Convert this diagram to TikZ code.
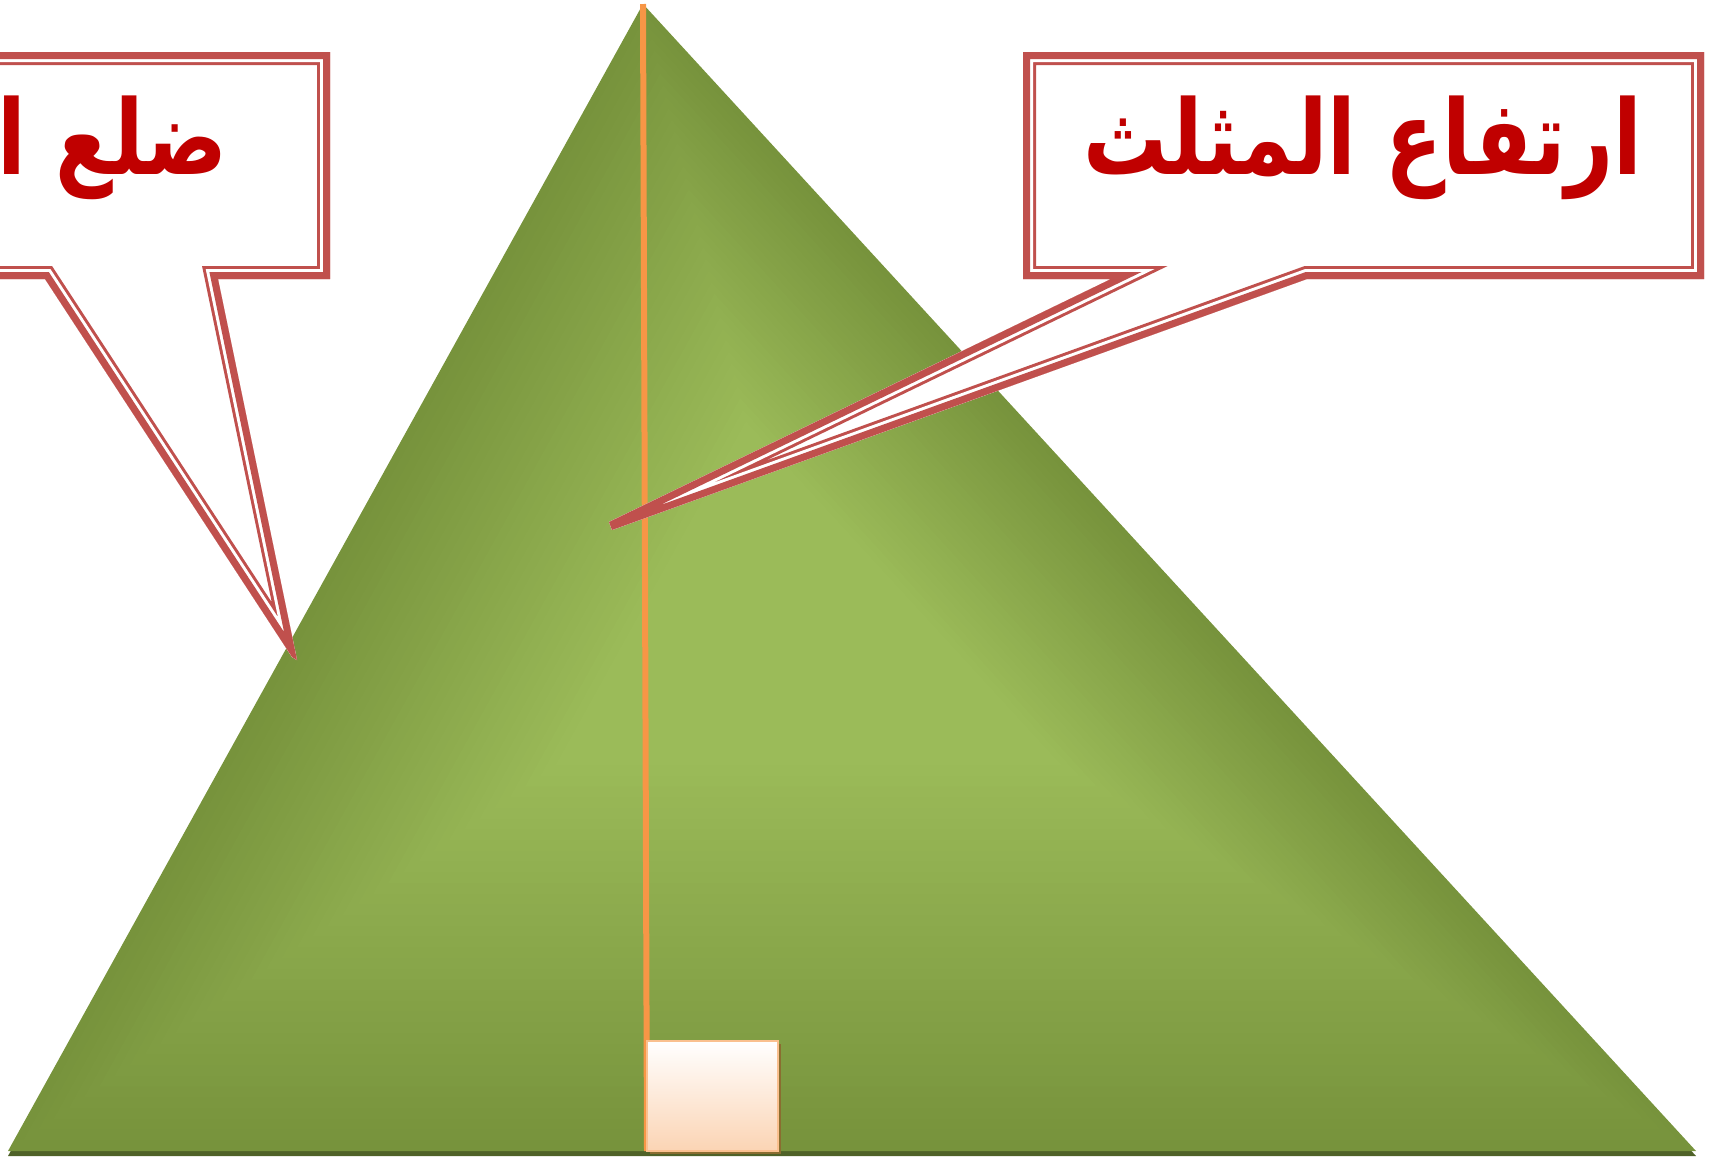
\documentclass[tikz,border=0pt]{standalone}
\usepackage{fontspec}
\newfontfamily\arabicfont[Script=Arabic]{DejaVu Sans}
\TeXXeTstate=1
\usetikzlibrary{calc, shadows}
\definecolor{olivedark}{HTML}{77933C}
\definecolor{olivelight}{HTML}{9BBB59}
\definecolor{basedark}{HTML}{4F6228}
\definecolor{altorange}{HTML}{F79646}
\definecolor{boxedge}{HTML}{FAC08F}
\definecolor{boxpeach}{HTML}{FBD4B4}
\definecolor{shadowbrown}{HTML}{8A6D30}
\definecolor{calloutred}{HTML}{C0504D}
\definecolor{textred}{HTML}{C00000}
\begin{document}
\begin{tikzpicture}[x=1pt,y=-1pt,calltext/.style={text=textred,font=\fontsize{90}{100}\selectfont\arabicfont\bfseries,inner sep=0pt},rightbox/.style={draw=boxedge,line width=2pt,top color=white,bottom color=boxpeach,minimum width=131pt,minimum height=110pt,inner sep=0pt,drop shadow={shadow xshift=3pt,shadow yshift=-3pt,fill=shadowbrown,opacity=1}},altitude/.style={draw=altorange,line width=6pt}]
\path[use as bounding box] (0,0) rectangle (1716,1157);
\clip (0,0) rectangle (1716,1157);
\coordinate (apex) at (643,4);\coordinate (foot) at (647,1151);\coordinate (glow) at (790,600);
\fill[basedark] (643,9) -- (8,1156) -- (1696,1156) -- cycle;
\foreach \i in {0,...,36}{\pgfmathsetmacro\s{1-0.7*\i/36}\pgfmathtruncatemacro\p{100*\i/36}
\fill[olivelight!\p!olivedark] ($(glow)!\s!(643,4)$) -- ($(glow)!\s!(8,1151)$) -- ($(glow)!\s!(1696,1151)$) -- cycle;}
\draw[altitude] (apex) -- (foot);
\node[rightbox] (rightangle) at (712.5,1096) {};
\coordinate (r1) at (1023,52);\coordinate (r2) at (1704,52);\coordinate (r3) at (1704,279);\coordinate (r4) at (1307,279);\coordinate (r5) at (612,530);\coordinate (r6) at (609,522);\coordinate (r7) at (1111,279);\coordinate (r8) at (1023,279);
\begin{scope}\clip (r1) -- (r2) -- (r3) -- (r4) -- (r5) -- (r6) -- (r7) -- (r8) -- cycle;
\fill[white] (r1) -- (r2) -- (r3) -- (r4) -- (r5) -- (r6) -- (r7) -- (r8) -- cycle;
\foreach \w/\c in {26/calloutred,20/white,14/calloutred}{\draw[\c,line width=\w pt] (r1) -- (r2) -- (r3) -- (r4) -- (r5) -- (r6) -- (r7) -- (r8) -- cycle;}
\end{scope}
\coordinate (l1) at (-400,52);\coordinate (l2) at (330,52);\coordinate (l3) at (330,279);\coordinate (l4) at (218,279);\coordinate (l5) at (297,660);\coordinate (l6) at (292,657);\coordinate (l7) at (45,279);\coordinate (l8) at (-400,279);
\begin{scope}\clip (l1) -- (l2) -- (l3) -- (l4) -- (l5) -- (l6) -- (l7) -- (l8) -- cycle;
\fill[white] (l1) -- (l2) -- (l3) -- (l4) -- (l5) -- (l6) -- (l7) -- (l8) -- cycle;
\foreach \w/\c in {26/calloutred,20/white,14/calloutred}{\draw[\c,line width=\w pt] (l1) -- (l2) -- (l3) -- (l4) -- (l5) -- (l6) -- (l7) -- (l8) -- cycle;}
\end{scope}
\node[calltext, anchor=base] (heightlabel) at (1363,174) {\scalebox{0.93}[1.15]{\beginR ارتفاع المثلث\endR}};
\node[calltext, anchor=base east] (sidelabel) at (228,174) {\scalebox{0.93}[1.15]{\beginR ضلع المثلث\endR}};
\end{tikzpicture}
\end{document}
